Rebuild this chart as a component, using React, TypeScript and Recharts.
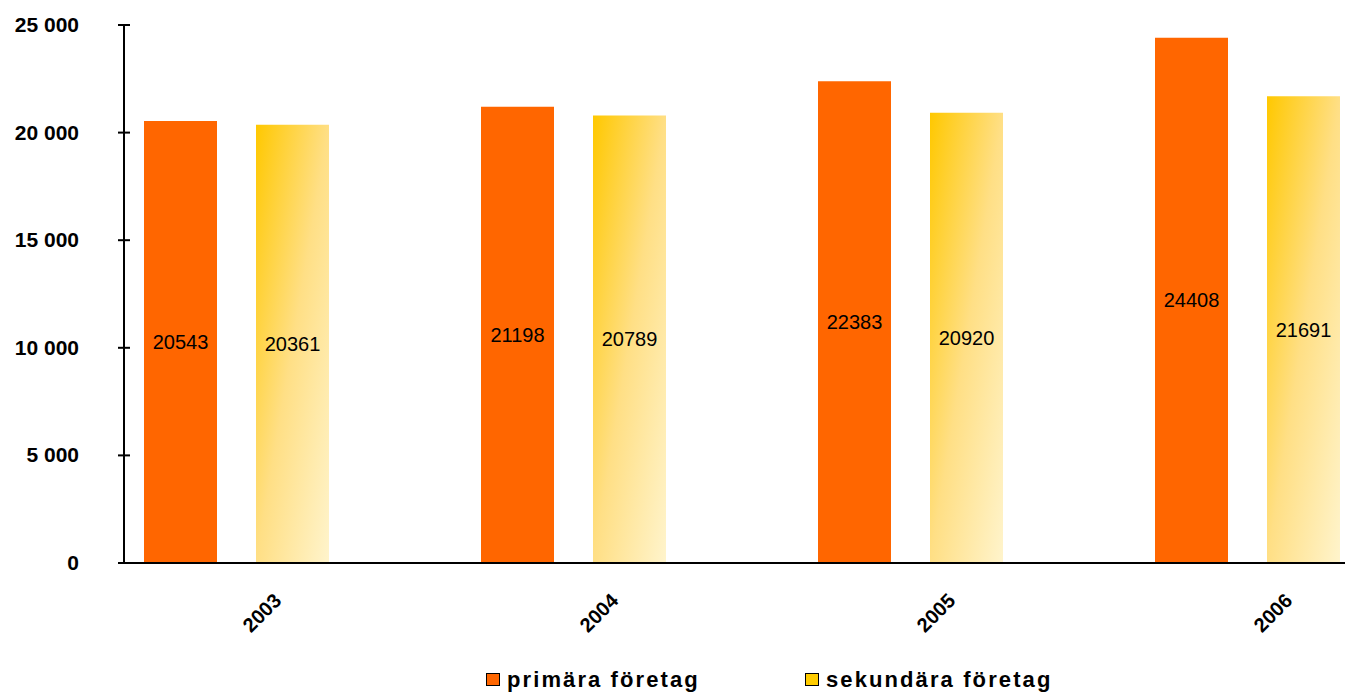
import React from 'react';
import { BarChart, Bar, XAxis, YAxis, Legend, LabelList } from 'recharts';

const years = ['2003', '2004', '2005', '2006'];
const primara = [20543, 21198, 22383, 24408];
const sekundara = [20361, 20789, 20920, 21691];
const yTicks = [0, 5000, 10000, 15000, 20000, 25000];
const seriesNames = ['primära företag', 'sekundära företag'];

const data = years.map((y, i) => ({
  year: y,
  primara: primara[i],
  sekundara: sekundara[i],
  empty: null as number | null,
}));

const FONT = 'Arial, "Liberation Sans", Helvetica, sans-serif';

const fmt = (v: number) => {
  const s = String(v);
  return s.replace(/\B(?=(\d{3})+(?!\d))/g, ' ');
};

const YTick = (props: any) => {
  const { x, y, payload } = props;
  return (
    <g>
      <line x1={x - 6} x2={x + 6} y1={y} y2={y} stroke="#000" strokeWidth={2} />
      <text
        x={x - 45}
        y={y + 7}
        textAnchor="end"
        fontFamily={FONT}
        fontWeight="bold"
        fontSize={21}
        fill="#000"
      >
        {fmt(payload.value)}
      </text>
    </g>
  );
};

const XTick = (props: any) => {
  const { x, y, payload } = props;
  const ax = x - 10;
  const ay = y + 39;
  return (
    <text
      x={ax}
      y={ay}
      transform={`rotate(-45, ${ax}, ${ay})`}
      textAnchor="end"
      fontFamily={FONT}
      fontWeight="bold"
      fontSize={20}
      fill="#000"
    >
      {payload.value}
    </text>
  );
};

const renderLegend = () => (
  <div
    style={{
      position: 'relative',
      width: 1345,
      height: 34,
      fontFamily: FONT,
      fontWeight: 'bold',
      fontSize: 22,
      letterSpacing: 2.1,
      color: '#000',
    }}
  >
    {[
      { left: 486, fill: '#FF6600', name: seriesNames[0] },
      { left: 805, fill: '#FFCC00', name: seriesNames[1] },
    ].map((it) => (
      <div key={it.name} style={{ position: 'absolute', left: it.left, top: 0, height: 34 }}>
        <div
          style={{
            position: 'absolute',
            left: 0,
            top: 13,
            width: 12,
            height: 11,
            background: it.fill,
            border: '1px solid #000',
          }}
        />
        <div
          style={{
            position: 'absolute',
            left: 21,
            top: 9,
            lineHeight: '22px',
            whiteSpace: 'nowrap',
          }}
        >
          {it.name}
        </div>
      </div>
    ))}
  </div>
);

export default function App() {
  return (
    <div
      style={{
        position: 'fixed',
        left: 0,
        top: 0,
        width: 1345,
        height: 694,
        overflow: 'hidden',
        background: '#fff',
      }}
    >
      <BarChart
        width={1480}
        height={694}
        data={data}
        margin={{ top: 25, right: 8, bottom: 0, left: 0 }}
        barSize={73}
        barGap={39}
      >
        <defs>
          <linearGradient id="yelGrad" x1="0" y1="0" x2="1" y2="1">
            <stop offset="0%" stopColor="#FFC800" />
            <stop offset="50%" stopColor="#FFDF85" />
            <stop offset="100%" stopColor="#FFF4CC" />
          </linearGradient>
        </defs>
        <XAxis
          dataKey="year"
          height={97}
          tickLine={false}
          tickSize={0}
          tickMargin={0}
          axisLine={{ stroke: '#000', strokeWidth: 2 }}
          tick={<XTick />}
          interval={0}
        />
        <YAxis
          width={124}
          domain={[0, 25000]}
          ticks={yTicks}
          tickSize={0}
          tickMargin={0}
          tickLine={false}
          axisLine={{ stroke: '#000', strokeWidth: 2 }}
          tick={<YTick />}
          interval={0}
        />
        <Legend verticalAlign="bottom" content={renderLegend} wrapperStyle={{ left: 0, width: 1345, bottom: 0 }} />
        <Bar dataKey="primara" name={seriesNames[0]} fill="#FF6600" isAnimationActive={false}>
          <LabelList
            dataKey="primara"
            position="center"
            fill="#000"
            fontFamily={FONT}
            fontSize={20}
          />
        </Bar>
        <Bar dataKey="sekundara" name={seriesNames[1]} fill="url(#yelGrad)" isAnimationActive={false}>
          <LabelList
            dataKey="sekundara"
            position="center"
            fill="#000"
            fontFamily={FONT}
            fontSize={20}
          />
        </Bar>
        <Bar dataKey="empty" legendType="none" fill="none" isAnimationActive={false} />
      </BarChart>
    </div>
  );
}
